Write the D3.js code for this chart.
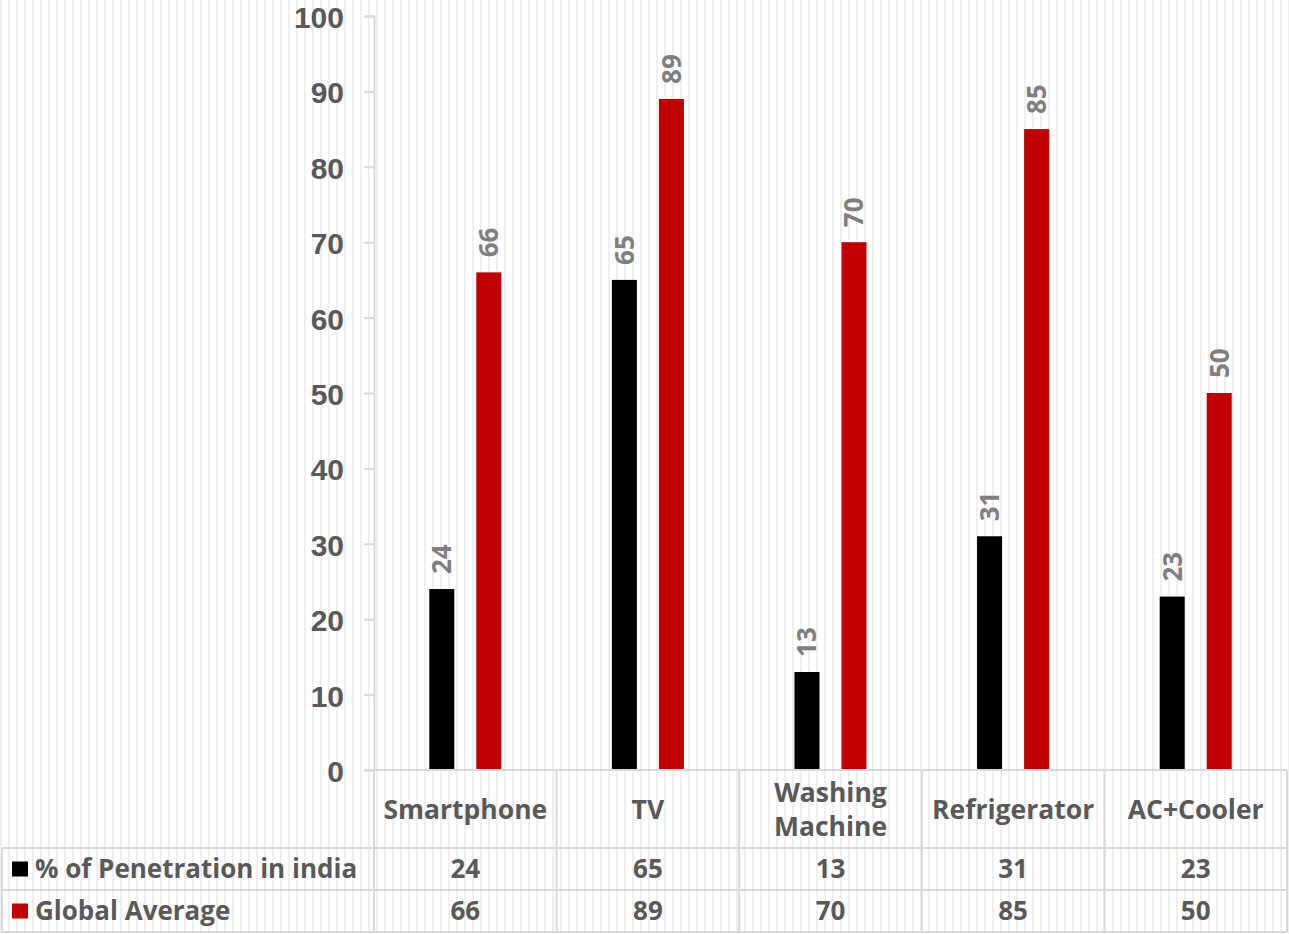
<!DOCTYPE html>
<html>
<head>
<meta charset="utf-8">
<script src="https://cdn.jsdelivr.net/npm/d3@7"></script>
<style>
  html, body { margin: 0; padding: 0; background: #fff; }
  svg { display: block; }
  text { font-family: "Open Sans", "DejaVu Sans", sans-serif; font-weight: 700; }
  .y-axis text { font-family: "Liberation Sans", Arial, sans-serif; }
</style>
</head>
<body>
<svg id="chart" width="1289" height="934"></svg>
<script>
// Appliance penetration: India vs global average (%)
const categories = ["Smartphone", "TV", "Washing Machine", "Refrigerator", "AC+Cooler"];
const categoryLines = [["Smartphone"], ["TV"], ["Washing", "Machine"], ["Refrigerator"], ["AC+Cooler"]];
const seriesNames = ["% of Penetration in india", "Global Average"];
const seriesColors = ["#000000", "#c00000"];
const indiaValues = [24, 65, 13, 31, 23];
const globalValues = [66, 89, 70, 85, 50];
const yTicks = [0, 10, 20, 30, 40, 50, 60, 70, 80, 90, 100];

const seriesValues = [indiaValues, globalValues];
const W = 1289, H = 934;
const plot = { left: 374, right: 1287, top: 16, bottom: 770 };
const tableRows = [770, 848, 890, 932];
const lineColor = "#d9d9d9";
const textColor = "#595959";

const svg = d3.select("#chart");

// striped background
const defs = svg.append("defs");
const pat = defs.append("pattern")
  .attr("id", "stripes").attr("patternUnits", "userSpaceOnUse")
  .attr("width", 8).attr("height", 8).attr("x", 0).attr("y", 0);
pat.append("rect").attr("width", 8).attr("height", 8).attr("fill", "#ffffff");
pat.append("rect").attr("x", 0).attr("width", 2).attr("height", 8).attr("fill", "#efefef");
svg.append("rect").attr("width", W).attr("height", H).attr("fill", "url(#stripes)");

const x0 = d3.scaleBand().domain(categories).range([plot.left, plot.right]);
const x1 = d3.scaleBand().domain(d3.range(seriesNames.length))
  .range([0, x0.bandwidth()]).paddingInner(0.468).paddingOuter(1.176);
const y = d3.scaleLinear().domain([0, 100]).range([plot.bottom, plot.top]);

// y axis
const yAxis = svg.append("g").attr("class", "y-axis")
  .attr("transform", `translate(${plot.left},0)`)
  .call(d3.axisLeft(y).tickValues(yTicks).tickSize(10).tickPadding(20));
yAxis.attr("font-family", null).attr("font-size", null);
yAxis.select(".domain").attr("stroke", lineColor).attr("stroke-width", 2);
yAxis.selectAll(".tick line").attr("stroke", lineColor).attr("stroke-width", 2);
yAxis.selectAll(".tick text")
  .attr("fill", textColor).style("font-size", "30px")
  .attr("dy", "0.38em");

// bars
const groups = svg.append("g").selectAll("g")
  .data(categories).join("g")
  .attr("transform", d => `translate(${x0(d)},0)`);

groups.selectAll("rect")
  .data((d, i) => seriesValues.map((vals, s) => ({ s, v: vals[i] })))
  .join("rect")
  .attr("x", d => x1(d.s))
  .attr("width", x1.bandwidth())
  .attr("y", d => y(d.v))
  .attr("height", d => y(0) - y(d.v))
  .attr("fill", d => seriesColors[d.s]);

// rotated value labels
groups.selectAll("text.val")
  .data((d, i) => seriesValues.map((vals, s) => ({ s, v: vals[i] })))
  .join("text").attr("class", "val")
  .attr("transform", d => `translate(${x1(d.s) + x1.bandwidth() / 2},${y(d.v) - 15}) rotate(-90)`)
  .attr("dy", "0.36em")
  .attr("fill", "#7f7f7f")
  .style("font-size", "26px")
  .text(d => d.v);

// data table grid
const grid = svg.append("g").attr("stroke", lineColor).attr("stroke-width", 2);
grid.append("line").attr("x1", plot.left - 10).attr("x2", plot.right)
  .attr("y1", tableRows[0]).attr("y2", tableRows[0]);
tableRows.slice(1).forEach(r => {
  grid.append("line").attr("x1", 2).attr("x2", plot.right).attr("y1", r).attr("y2", r);
});
grid.append("line").attr("x1", 2).attr("x2", 2).attr("y1", tableRows[1]).attr("y2", tableRows[3]);
categories.forEach(c => {
  grid.append("line").attr("x1", x0(c)).attr("x2", x0(c))
    .attr("y1", tableRows[0]).attr("y2", tableRows[3]);
});
grid.append("line").attr("x1", plot.right).attr("x2", plot.right)
  .attr("y1", tableRows[0]).attr("y2", tableRows[3]);

// category header cells
categories.forEach((c, i) => {
  const lines = categoryLines[i];
  const cy = (tableRows[0] + tableRows[1]) / 2;
  const lh = 34;
  lines.forEach((ln, k) => {
    svg.append("text")
      .attr("x", x0(c) + x0.bandwidth() / 2)
      .attr("y", cy + (k - (lines.length - 1) / 2) * lh)
      .attr("dy", "0.36em")
      .attr("text-anchor", "middle")
      .attr("fill", textColor)
      .style("font-size", "26.5px")
      .text(ln);
  });
});

// value rows with legend keys
seriesNames.forEach((name, s) => {
  const cy = (tableRows[s + 1] + tableRows[s + 2]) / 2;
  svg.append("rect").attr("x", 12).attr("y", cy - 7.5).attr("width", 16).attr("height", 15)
    .attr("fill", seriesColors[s]);
  svg.append("text").attr("x", 35).attr("y", cy).attr("dy", "0.36em")
    .attr("fill", textColor).style("font-size", "26px").text(name);
  categories.forEach((c, i) => {
    svg.append("text")
      .attr("x", x0(c) + x0.bandwidth() / 2)
      .attr("y", cy).attr("dy", "0.36em")
      .attr("text-anchor", "middle")
      .attr("fill", textColor)
      .style("font-size", "26px")
      .text(seriesValues[s][i]);
  });
});
</script>
</body>
</html>
